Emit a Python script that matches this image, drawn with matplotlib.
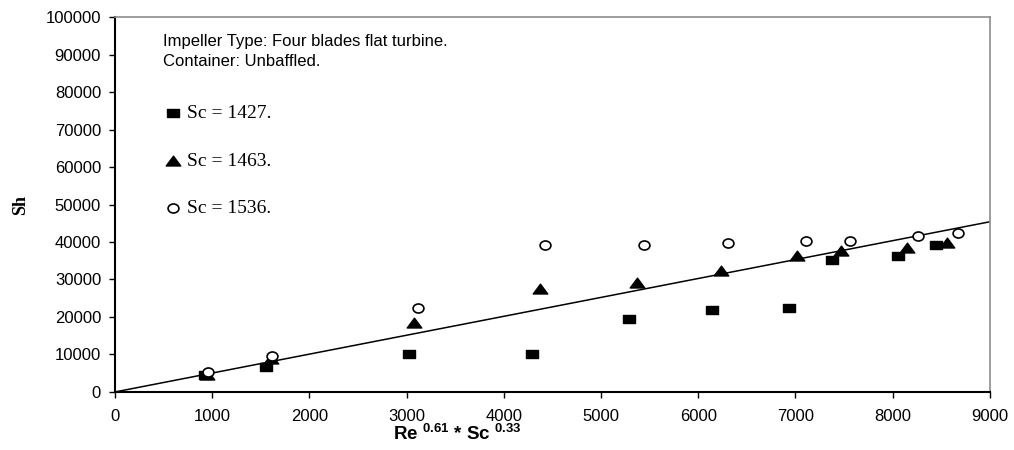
import numpy as np
import matplotlib
matplotlib.use("Agg")
import matplotlib.pyplot as plt
from matplotlib.path import Path
from matplotlib.transforms import Affine2D

plt.rcParams['font.family'] = ['Liberation Sans', 'DejaVu Sans']
plt.rcParams['mathtext.fontset'] = 'custom'
plt.rcParams['mathtext.rm'] = 'Liberation Sans:bold'
plt.rcParams['mathtext.it'] = 'Liberation Sans:bold'
plt.rcParams['mathtext.bf'] = 'Liberation Sans:bold'

# Re^0.61 * Sc^0.33 vs Sh for three Schmidt numbers
x_1427 = [930, 1550, 3020, 4290, 5290, 6140, 6930, 7380, 8050, 8450]
sh_1427 = [4600, 6600, 10100, 10000, 19400, 21800, 22400, 35200, 36200, 39200]

x_1463 = [950, 1600, 3080, 4370, 5370, 6230, 7020, 7470, 8150, 8560]
sh_1463 = [4500, 8800, 18400, 27500, 29100, 32300, 36300, 37600, 38500, 39800]

x_1536 = [960, 1620, 3120, 4420, 5440, 6310, 7110, 7560, 8260, 8670]
sh_1536 = [5300, 9700, 22400, 39200, 39200, 39700, 40300, 40300, 41600, 42400]

# correlation line
fit_x = [0, 9000]
fit_sh = [0, 45400]

# slightly wide markers (the sheet was stretched sideways)
wide = Affine2D().scale(1.3, 1.0)
sq = Path([(-1, -1), (1, -1), (1, 1), (-1, 1), (-1, -1)], closed=True).transformed(wide)
tri = Path([(-1, -0.8), (1, -0.8), (0, 0.95), (-1, -0.8)], closed=True).transformed(wide)
circ = Path.unit_circle().transformed(Affine2D().scale(1.2, 1.0))

series = [
    ("Sc = 1427.", x_1427, sh_1427, dict(marker=sq, ms=8, mfc='black', mec='black')),
    ("Sc = 1463.", x_1463, sh_1463, dict(marker=tri, ms=10.5, mfc='black', mec='black')),
    ("Sc = 1536.", x_1536, sh_1536, dict(marker=circ, ms=7.8, mfc='white', mec='black', mew=1.2)),
]

fig = plt.figure(figsize=(10.14, 4.5), dpi=100)
ax = fig.add_axes([0.1134, 0.129, 0.8628, 0.833])

ax.plot(fit_x, fit_sh, color='black', lw=1.1, zorder=2)
for label, xs, ys, style in series:
    ax.plot(xs, ys, ls='none', zorder=3, **style)

ax.set_xlim(0, 9000)
ax.set_ylim(0, 100000)
ax.set_xticks(np.arange(0, 9001, 1000))
ax.set_yticks(np.arange(0, 100001, 10000))
ax.tick_params(direction='out', length=4, width=1, labelsize=12, colors='black')
ax.tick_params(axis='x', pad=8)
ax.tick_params(axis='y', pad=6)
for s in ['left', 'bottom']:
    ax.spines[s].set_linewidth(1.5)
    ax.spines[s].set_color('black')
for s in ['top', 'right']:
    ax.spines[s].set_linewidth(1.2)
    ax.spines[s].set_color('#8c8c8c')

ax.text(0.055, 0.935, "Impeller Type: Four blades flat turbine.", transform=ax.transAxes,
        fontsize=12, va='center', ha='left')
ax.text(0.055, 0.882, "Container: Unbaffled.", transform=ax.transAxes,
        fontsize=12, va='center', ha='left')

# legend entries
rows = [0.744, 0.616, 0.490]
for (label, xs, ys, style), yy in zip(series, rows):
    ax.plot([0.066], [yy], transform=ax.transAxes, clip_on=False, ls='none', **style)
    ax.text(0.082, yy, label, transform=ax.transAxes, fontsize=14,
            family='Liberation Serif', va='center', ha='left')

fig.text(0.02, 0.545, "Sh", rotation=90, fontsize=13, family='Liberation Serif',
         fontweight='bold', va='center', ha='center')
fig.text(0.451, 0.035, r"Re $^{0.61}$ * Sc $^{0.33}$", fontsize=13.5, fontweight='bold',
         va='center', ha='center')

fig.savefig("out.png", dpi=100)
